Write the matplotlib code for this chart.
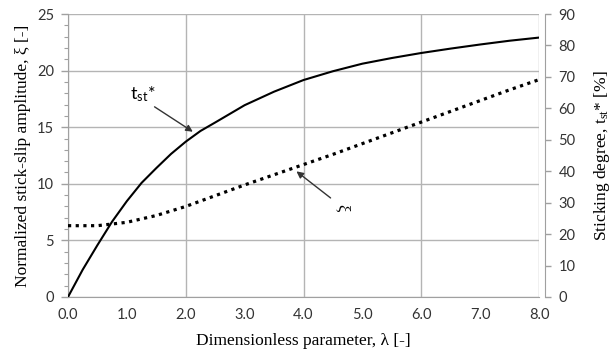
import matplotlib.pyplot as plt
import numpy as np

# data
lam = [0.0, 0.5, 1.0, 1.5, 2.0, 2.5, 3.0, 3.5, 4.0, 4.5, 5.0, 5.5, 6.0, 6.5, 7.0, 7.5, 8.0]
xi = [6.3, 6.3, 6.6, 7.2, 8.0, 8.95, 9.9, 10.8, 11.7, 12.6, 13.55, 14.5, 15.45, 16.4, 17.35, 18.3, 19.2]
lam_t = [0.0, 0.25, 0.5, 0.75, 1.0, 1.25, 1.5, 1.75, 2.0, 2.25, 2.5, 3.0, 3.5, 4.0, 4.5,
         5.0, 5.5, 6.0, 6.5, 7.0, 7.5, 8.0]
t_st = [0.0, 8.7, 16.5, 24.0, 30.5, 36.3, 41.0, 45.5, 49.4, 52.8, 55.5, 61.0, 65.3, 69.0, 71.8,
        74.2, 76.0, 77.6, 79.0, 80.3, 81.5, 82.5]

x_major = [0, 2, 4, 6, 8]
x_minor = [1, 3, 5, 7]
y_left = [0, 5, 10, 15, 20, 25]
y_right = [0, 10, 20, 30, 40, 50, 60, 70, 80, 90]

tick_font = 'Lato'
label_font = 'Liberation Serif'
grid_c = '#b4b4b4'
spine_c = '#a0a0a0'

fig = plt.figure(figsize=(6.16, 3.53), dpi=100)
ax = fig.add_axes([68 / 616, 1 - 297 / 353, (539 - 68) / 616, (297 - 14) / 353])

ax.plot(lam, xi, color='black', lw=2.3, linestyle=(0, (1, 1.4)), zorder=3)

ax.set_xlim(0, 8)
ax.set_ylim(0, 25)
ax.set_xticks(x_major)
ax.set_xticks(x_minor, minor=True)
ax.set_xticklabels([f'{v:.1f}' for v in x_major])
ax.set_xticklabels([f'{v:.1f}' for v in x_minor], minor=True)
ax.set_yticks(y_left)
ax.set_yticks(np.arange(0, 26, 1), minor=True)
ax.yaxis.set_minor_formatter(plt.NullFormatter())

ax.grid(True, which='major', color=grid_c, lw=1.0)
ax.tick_params(axis='x', which='both', length=0, pad=8)
ax.tick_params(axis='y', which='major', length=5, width=1, color=spine_c, pad=5)
ax.tick_params(axis='y', which='minor', length=3, width=0.8, color=spine_c)
for lab in ax.get_xticklabels(which='both') + ax.get_yticklabels():
    lab.set_fontfamily(tick_font)
    lab.set_fontsize(10.5)
    lab.set_color('#333333')

for s in ['top', 'right']:
    ax.spines[s].set_visible(False)
ax.spines['left'].set_color(spine_c)
ax.spines['bottom'].set_color(spine_c)

ax.set_xlabel('Dimensionless parameter, λ [-]', fontfamily=label_font, fontsize=12.5, labelpad=8)
ax.set_ylabel('Normalized stick-slip amplitude, ξ [-]', fontfamily=label_font, fontsize=12.5, labelpad=4)

ax2 = ax.twinx()
ax2.plot(lam_t, t_st, color='black', lw=1.5, zorder=3)
ax2.set_ylim(0, 90)
ax2.set_yticks(y_right)
for s in ['top', 'left', 'bottom']:
    ax2.spines[s].set_visible(False)
ax2.spines['right'].set_position(('outward', 4))
ax2.spines['right'].set_color(spine_c)
ax2.tick_params(axis='y', length=4, width=1, color=spine_c, pad=6)
for lab in ax2.get_yticklabels():
    lab.set_fontfamily(tick_font)
    lab.set_fontsize(10.5)
    lab.set_color('#333333')
ax2.set_ylabel(r'Sticking degree, $\mathregular{t_{st}}$* [%]', fontfamily=label_font,
               fontsize=12.5, labelpad=12)

# annotations
arrow = dict(arrowstyle='-|>', color='#333333', lw=1.0, mutation_scale=10, shrinkA=0, shrinkB=0)
ax.annotate('', xy=(2.12, 14.6), xytext=(1.47, 16.8), arrowprops=arrow)
ax.text(1.27, 17.9, r'$\mathregular{t_{st}}$*', fontfamily=tick_font, fontsize=13,
        ha='center', va='center')
ax.annotate('', xy=(3.88, 11.1), xytext=(4.46, 8.75), arrowprops=arrow)
ax.text(4.66, 7.9, 'ξ', fontfamily=label_font, fontsize=12, rotation=-90,
        ha='center', va='center')

fig.savefig('out.png', dpi=100)
